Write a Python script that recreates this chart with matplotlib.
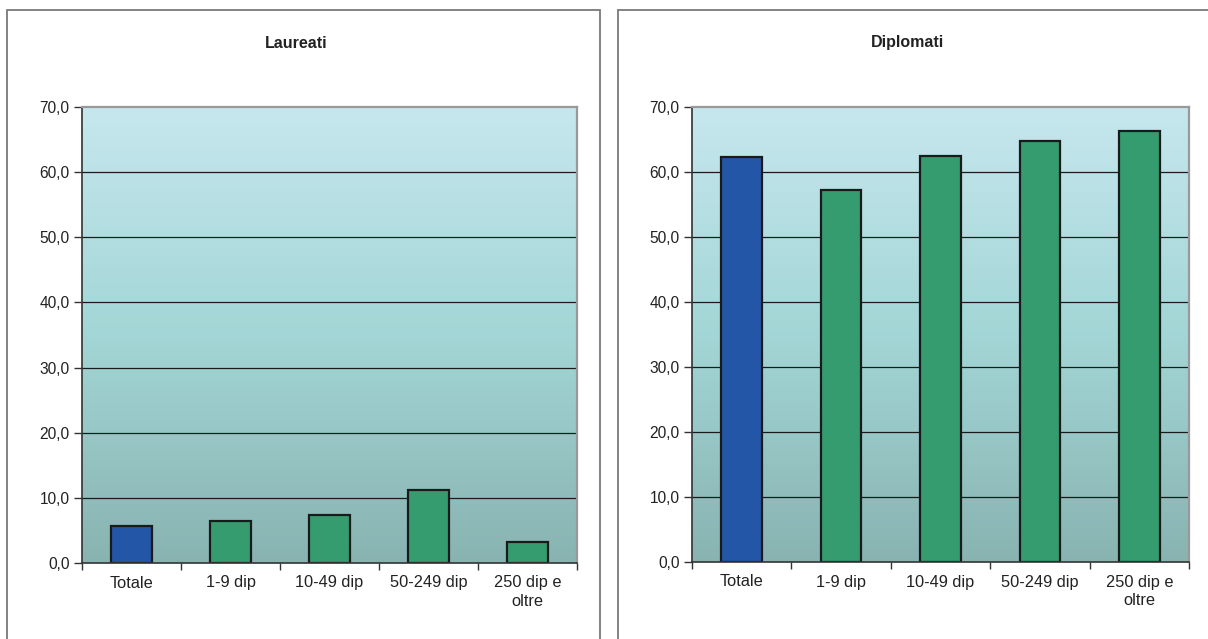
import numpy as np
import matplotlib
matplotlib.use("Agg")
import matplotlib.pyplot as plt
from matplotlib.colors import LinearSegmentedColormap
from matplotlib.patches import Rectangle

plt.rcParams['font.family'] = ['Liberation Sans', 'DejaVu Sans']

categories = ["Totale", "1-9 dip", "10-49 dip", "50-249 dip", "250 dip e\noltre"]
laureati = [5.7, 6.4, 7.4, 11.2, 3.3]
diplomati = [62.3, 57.3, 62.5, 64.8, 66.3]
titles = ["Laureati", "Diplomati"]
yticks = [0, 10, 20, 30, 40, 50, 60, 70]
ytick_labels = ["0,0", "10,0", "20,0", "30,0", "40,0", "50,0", "60,0", "70,0"]

W, H = 1208, 639
fig = plt.figure(figsize=(W / 100, H / 100), dpi=100)

def fr(x0, y0, x1, y1):
    return [x0 / W, 1 - y1 / H, (x1 - x0) / W, (y1 - y0) / H]

# panel frames
for (x0, x1) in [(7, 600), (618, 1215)]:
    fig.patches.append(Rectangle((x0 / W, -0.05), (x1 - x0) / W, 1 - 10 / H + 0.05,
                                 transform=fig.transFigure, fill=False,
                                 edgecolor="#7a7a7a", linewidth=1.3))

cmap = LinearSegmentedColormap.from_list(
    "bg", [(0.0, "#88b3b1"), (0.5, "#a3d6d6"), (1.0, "#c6e7ee")])
grad = np.linspace(0, 1, 256).reshape(-1, 1)

colors = ["#2356a7", "#349c6f", "#349c6f", "#349c6f", "#349c6f"]

panels = [((82, 107, 577, 563), laureati, titles[0], 296),
          ((692, 107, 1189, 562), diplomati, titles[1], 907)]

for (x0, y0, x1, y1), vals, title, cx in panels:
    ax = fig.add_axes(fr(x0, y0, x1, y1))
    x = np.arange(len(categories))
    ax.set_xlim(-0.5, len(categories) - 0.5)
    ax.set_ylim(0, 70)
    ax.imshow(grad, extent=[-0.5, len(categories) - 0.5, 0, 70], aspect="auto",
              cmap=cmap, origin="lower", zorder=0)
    for yv in yticks[1:-1]:
        ax.axhline(yv, color="#1a1a1a", linewidth=0.9, zorder=1)
    ax.bar(x, vals, width=0.41, color=colors, edgecolor="#1a1a1a",
           linewidth=1.6, zorder=2)
    ax.set_yticks(yticks)
    ax.set_yticklabels(ytick_labels, fontsize=11.2, color="#222222")
    ax.set_xticks(np.arange(len(categories) + 1) - 0.5, minor=True)
    ax.set_xticks(x)
    ax.set_xticklabels(categories, fontsize=11.8, color="#222222", linespacing=1.3)
    ax.tick_params(axis="x", which="major", length=0, pad=9)
    ax.tick_params(axis="x", which="minor", length=5, width=1, color="#333333", direction="out")
    ax.tick_params(axis="y", length=6, width=1, color="#333333", direction="out", pad=3)
    for s in ["left", "bottom"]:
        ax.spines[s].set_color("#333333")
        ax.spines[s].set_linewidth(1.2)
    for s in ["top", "right"]:
        ax.spines[s].set_color("#999999")
        ax.spines[s].set_linewidth(1.6)
    fig.text(cx / W, 1 - 43 / H, title, ha="center", va="center",
             fontsize=11.5, fontweight="bold", color="#222222")

fig.savefig("out.png", dpi=100)
